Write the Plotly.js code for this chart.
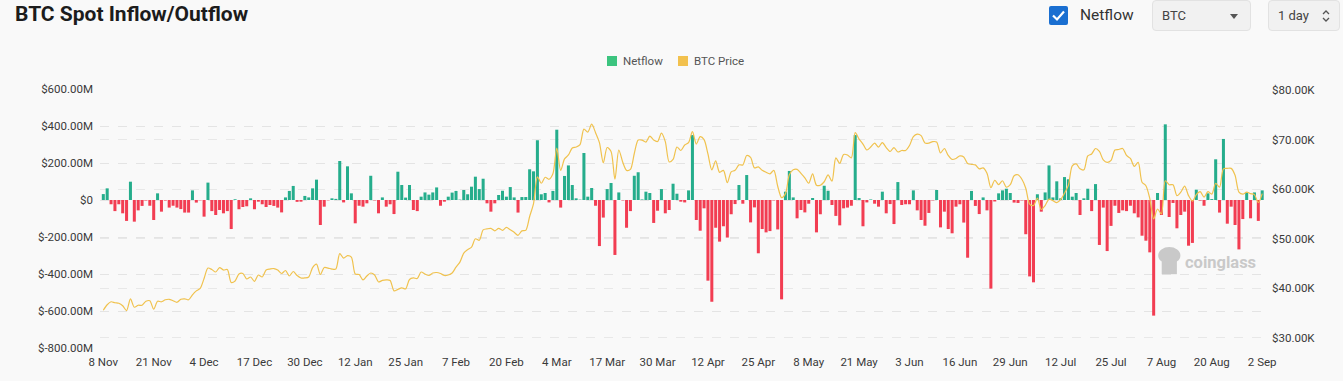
<!DOCTYPE html>
<html>
<head>
<meta charset="utf-8">
<script src="https://cdn.plot.ly/plotly-3.0.1.min.js"></script>
<style>
  html, body { margin:0; padding:0; width:1343px; height:381px; background:#f9f9f9; overflow:hidden; font-family: Roboto, "Open Sans", sans-serif; }
  #chart { position:absolute; left:0; top:0; width:1343px; height:381px; }
  .title { position:absolute; left:15px; top:2px; font-size:21px; font-weight:700; color:#1c1c1c; }
  .chk { position:absolute; left:1049px; top:6px; width:19px; height:19px; background:#1a6fd1; border-radius:2px; }
  .chk svg { position:absolute; left:2px; top:2px; }
  .chklabel { position:absolute; left:1080px; top:6px; font-size:15.5px; color:#333; }
  .sel { position:absolute; top:0px; height:31px; background:#f1f1f1; border:1px solid #e2e2e2; border-radius:4px; box-sizing:border-box; font-size:13px; color:#444; }
  .sel span { position:absolute; left:9px; top:7px; }
  .caret { position:absolute; right:12px; top:13px; width:0; height:0; border-left:4px solid transparent; border-right:4px solid transparent; border-top:5px solid #555; }
  .leg { position:absolute; top:54px; font-size:11.5px; color:#555; line-height:14px; }
  .leg i { position:absolute; left:0; top:2px; width:10px; height:10px; }
  .leg span { position:absolute; left:16px; top:0; white-space:nowrap; }
</style>
</head>
<body>
<div id="chart"></div>
<div class="title">BTC Spot Inflow/Outflow</div>
<div class="chk"><svg width="15" height="15" viewBox="0 0 15 15"><path d="M2 7.5 L6 11.5 L13 3.5" stroke="#fff" stroke-width="2.2" fill="none"/></svg></div>
<div class="chklabel">Netflow</div>
<div class="sel" style="left:1152px; width:99px;"><span>BTC</span><div class="caret"></div></div>
<div class="sel" style="left:1268px; width:72px;"><span>1 day</span>
  <svg style="position:absolute; left:52px; top:8px;" width="10" height="14" viewBox="0 0 10 14"><path d="M2 5 L5 2 L8 5 M2 9 L5 12 L8 9" stroke="#555" stroke-width="1.3" fill="none"/></svg>
</div>
<div id="legend"></div>
<script>
// ---- data (netflow in $M, price in $K), daily from 8 Nov 2023 ----
const startDate = '2023-11-08';
const netflow = [
  32, 63, -23, -60, -23, -72, -113, 99, -117, -56, -32, -3, -31, -108, 36, -63, -3, -41, -31, -41,
  -49, -68, -68, 52, -14, -2, -90, 94, -60, -81, -54, -72, -60, -157, 4, -50, -38, -34, 9, -50,
  -9, -23, -38, -27, -32, -41, -67, 14, 49, 76, -10, -9, 22, 14, 63, 110, -135, -36, -2, 9,
  6, 211, -13, 182, 36, -126, -31, -36, -18, 131, -2, -72, 14, -36, -23, -76, 153, 81, 13, 81,
  -54, -60, 18, 41, 29, 41, 68, -31, -9, 18, 40, 49, 2, 54, 31, 72, 126, 59, 115, -18,
  -63, -18, 27, 50, 18, 70, 14, -68, 16, 16, 166, 155, 323, 31, 38, -13, 49, 380, -41, 130,
  187, 81, 9, 2, 254, 18, 65, -31, -249, -95, 59, 92, -297, 41, -2, -150, -60, 131, 150, 3,
  45, 38, -124, -58, 59, -72, -54, 88, 34, -9, -13, 52, 351, -108, -166, -45, -436, -550, -150, -225,
  -142, -203, -77, -22, 81, -20, 135, -121, -40, -288, -157, -175, -168, -2, -159, -537, 45, 157, 14, -99,
  -54, -67, -20, 11, -175, -77, 77, 50, -27, -86, -137, -45, -41, -31, 351, 11, -142, -13, 3, -20,
  -36, 45, -72, -22, -130, 97, -27, -23, -23, 52, -56, -108, -139, -70, -2, 54, -148, -63, -157, -180,
  -36, -23, -122, -312, 49, -32, -76, 14, -56, -479, -8, 36, 52, 61, 38, -14, -16, -2, -185, -413,
  -445, 31, -63, 41, 187, 14, 101, 9, 124, 112, 18, 38, -81, 9, 61, -60, 86, -243, -41, -276,
  -140, -31, -70, -56, -60, -31, -72, -94, -193, -220, -283, -625, 38, -81, 409, -92, -16, -153, -81, -63,
  -247, -232, 56, -3, -31, 36, 5, 220, -68, 330, -128, -36, -135, -267, -103, 41, -99, 41, -113, 52
];
const btcPrice = [
  35.6, 36.7, 37.3, 37.1, 37.0, 36.5, 35.5, 37.9, 36.2, 36.6, 36.6, 37.4, 37.5, 35.8, 37.4, 37.3, 37.7, 37.8, 37.5, 37.2,
  37.8, 37.9, 37.7, 38.7, 39.5, 40.0, 42.0, 44.1, 43.8, 43.3, 44.2, 43.7, 43.8, 41.2, 41.5, 42.9, 43.0, 41.9, 42.3, 41.4,
  42.7, 42.3, 43.7, 43.9, 44.0, 43.7, 43.0, 43.6, 42.5, 43.4, 42.6, 42.1, 42.1, 42.3, 44.2, 44.9, 42.8, 44.2, 44.1, 43.9,
  43.9, 47.0, 46.1, 46.6, 46.3, 42.9, 42.8, 41.7, 42.5, 43.1, 42.7, 41.3, 41.6, 41.7, 41.6, 39.5, 39.8, 40.1, 39.9, 41.8,
  42.1, 42.0, 43.3, 42.9, 42.6, 43.1, 43.2, 43.0, 42.6, 42.7, 43.1, 44.3, 45.3, 47.1, 47.8, 48.3, 50.0, 49.7, 51.8, 52.0,
  52.1, 51.6, 52.1, 51.7, 52.3, 51.8, 51.3, 50.7, 51.6, 51.7, 54.5, 57.1, 62.5, 61.2, 62.4, 62.0, 63.1, 68.3, 63.8, 66.1,
  66.9, 68.3, 68.5, 69.0, 72.1, 71.5, 73.1, 71.4, 69.4, 65.3, 68.4, 67.6, 62.0, 67.9, 65.5, 63.8, 64.0, 67.2, 69.9, 69.9,
  69.5, 70.7, 69.9, 69.6, 71.3, 69.6, 65.5, 66.0, 68.5, 67.8, 68.9, 69.4, 71.6, 69.1, 70.6, 70.0, 67.1, 63.9, 65.7, 63.4,
  63.8, 61.3, 63.5, 63.8, 64.9, 64.9, 66.8, 66.4, 64.3, 64.5, 63.8, 63.4, 63.1, 63.8, 60.6, 58.3, 59.1, 62.9, 63.9, 64.0,
  63.2, 62.3, 61.2, 63.1, 60.8, 60.8, 61.5, 62.9, 61.6, 66.3, 65.2, 67.0, 66.9, 66.3, 71.4, 70.1, 69.1, 67.9, 68.5, 69.3,
  68.5, 69.4, 68.4, 67.6, 68.4, 67.5, 67.8, 67.8, 68.8, 70.6, 71.1, 70.8, 69.3, 69.3, 69.6, 69.5, 67.3, 68.2, 66.8, 66.0,
  66.2, 66.7, 66.5, 65.2, 65.0, 64.9, 64.1, 64.3, 63.2, 60.3, 61.8, 60.9, 61.7, 60.4, 60.9, 62.7, 62.9, 62.0, 60.2, 57.0,
  56.7, 58.2, 55.9, 56.7, 58.0, 57.7, 57.3, 57.9, 59.2, 60.8, 64.7, 65.1, 64.1, 63.9, 66.7, 67.1, 68.2, 67.6, 65.9, 65.4,
  65.8, 67.9, 68.0, 68.2, 66.8, 66.2, 64.6, 65.4, 61.4, 60.7, 58.1, 54.0, 56.0, 55.0, 61.7, 60.9, 60.9, 58.7, 59.4, 60.6,
  58.7, 57.6, 58.9, 59.5, 58.4, 59.5, 59.0, 61.2, 60.4, 64.1, 64.2, 64.2, 62.8, 59.4, 59.0, 59.4, 59.1, 58.9, 57.3, 59.1
];
const leftTickVals = [-800, -600, -400, -200, 0, 200, 400, 600];
const leftTickText = ['$-800.00M', '$-600.00M', '$-400.00M', '$-200.00M', '$0', '$200.00M', '$400.00M', '$600.00M'];
const rightTickVals = [30, 40, 50, 60, 70, 80];
const rightTickText = ['$30.00K', '$40.00K', '$50.00K', '$60.00K', '$70.00K', '$80.00K'];
const seriesNames = ['Netflow', 'BTC Price'];

// ---- build ----
const GREEN = '#25ad8c', RED = '#f23d52', GOLD = '#f0c24e';
const LEG_COLORS = ['#3cc47f', '#f2c14e'];
const legLeft = [607, 678];
document.getElementById('legend').innerHTML = seriesNames.map((n, k) =>
  `<div class="leg" style="left:${legLeft[k]}px"><i style="background:${LEG_COLORS[k]}"></i><span>${n}</span></div>`).join('');

const t0 = new Date(startDate + 'T00:00:00Z').getTime();
const dates = netflow.map((_, i) => new Date(t0 + i * 86400000).toISOString().slice(0, 10));

const traces = [
  { type: 'bar', x: dates, y: netflow, marker: { color: netflow.map(v => v >= 0 ? GREEN : RED) },
    showlegend: false, name: seriesNames[0] },
  { type: 'scatter', mode: 'lines', x: dates, y: btcPrice, yaxis: 'y2',
    line: { color: GOLD, width: 1.2, shape: 'spline', smoothing: 0.8 }, showlegend: false, name: seriesNames[1] }
];

const tickFont = { family: 'Roboto, sans-serif', size: 11.5, color: '#3a3a3a' };
const layout = {
  width: 1343, height: 381,
  margin: { l: 100, r: 75, t: 89, b: 33 },
  paper_bgcolor: 'rgba(0,0,0,0)', plot_bgcolor: 'rgba(0,0,0,0)',
  bargap: 0.22,
  font: tickFont,
  showlegend: false,
  xaxis: {
    type: 'date', range: ['2023-11-07 03:30', '2024-09-03 12:00'],
    tick0: startDate, dtick: 13 * 86400000, tickformat: '%-d %b',
    showgrid: false, zeroline: false, showline: false, ticks: '', tickfont: tickFont,
    ticklabelstandoff: 5
  },
  yaxis: {
    range: [-800, 600], tickvals: leftTickVals, ticktext: leftTickText,
    showgrid: true, gridcolor: '#e4e4e4', griddash: 'dash', gridwidth: 1,
    zeroline: false, showline: false, ticks: '', tickfont: tickFont, ticklabelstandoff: 6
  },
  yaxis2: {
    overlaying: 'y', side: 'right', range: [27.98, 80.2], tickvals: rightTickVals, ticktext: rightTickText,
    showgrid: true, gridcolor: '#e8e8e8', griddash: 'dash', gridwidth: 1,
    zeroline: false, showline: false, ticks: '', tickfont: tickFont, ticklabelstandoff: 3
  },
  annotations: [
    { xref: 'paper', yref: 'paper', x: 0.9914, y: 0.33, xanchor: 'right', yanchor: 'middle',
      text: '<b>coinglass</b>', showarrow: false,
      font: { family: 'Roboto, sans-serif', size: 16.5, color: '#c9c9c9' } }
  ],
  shapes: [
    { type: 'circle', xref: 'paper', yref: 'paper', x0: 0.906, x1: 0.925, y0: 0.325, y1: 0.39,
      fillcolor: '#c9c9c9', line: { width: 0 } },
    { type: 'rect', xref: 'paper', yref: 'paper', x0: 0.909, x1: 0.922, y0: 0.285, y1: 0.34,
      fillcolor: '#c9c9c9', line: { width: 0 } }
  ]
};
Plotly.newPlot('chart', traces, layout, { displayModeBar: false, staticPlot: true });
</script>
</body>
</html>
